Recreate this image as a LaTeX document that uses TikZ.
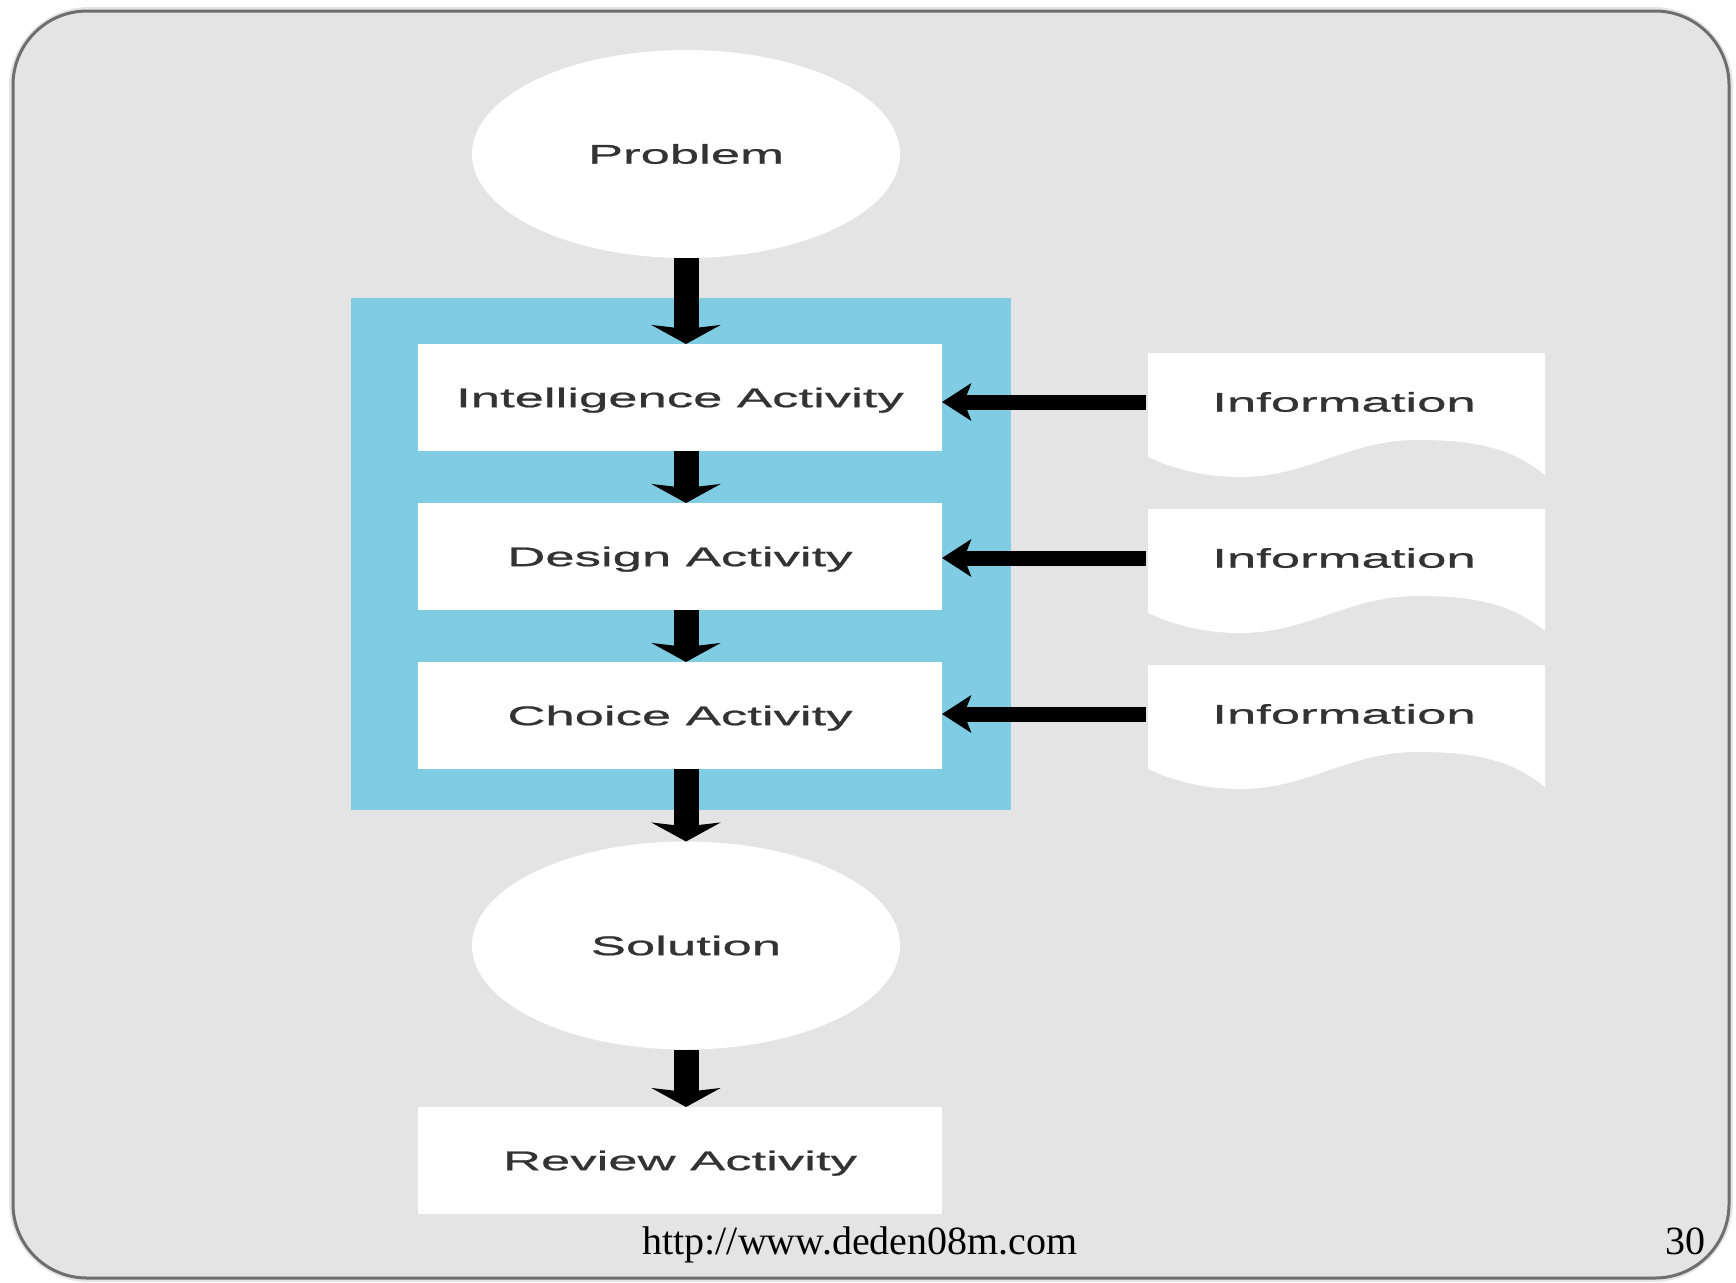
\documentclass[tikz,border=0pt]{standalone}
\usepackage{fontspec}
\setmainfont{Liberation Serif}
\newfontfamily\diagfont[FakeStretch=1.95,FakeBold=0.8]{Liberation Sans}
\usetikzlibrary{arrows.meta,shapes.geometric}

\definecolor{slidebg}{HTML}{E4E4E4}
\definecolor{frameline}{HTML}{6E6E6E}
\definecolor{phasebg}{HTML}{80CDE3}
\definecolor{labeltext}{HTML}{333333}

\begin{document}
\begin{tikzpicture}[x=1pt,y=-1pt,
  every node/.style={inner sep=0pt, outer sep=0pt},
  labelfont/.style={font=\diagfont\fontsize{27}{32}\selectfont, text=labeltext,
    text height=19.3pt, text depth=0pt},
  stepbox/.style={labelfont, fill=white, minimum width=524pt, minimum height=107pt},
  oval/.style={labelfont, ellipse, fill=white, minimum width=428pt, minimum height=208pt},
  docnode/.style={labelfont, minimum width=397pt},
  flow/.style={line width=25pt, -{Stealth[length=19pt, width=69pt, inset=4pt]}},
  feed/.style={line width=15pt, -{Stealth[length=29pt, width=37pt, inset=7pt]}},
  footer/.style={font=\fontsize{40}{48}\selectfont, anchor=base}
]
\useasboundingbox (0,0) rectangle (1736,1282);
\fill[white] (0,0) rectangle (1736,1282);

% slide frame
\draw[line width=8pt, black!10, rounded corners=76pt] (13,11) rectangle (1729,1278);
\draw[fill=slidebg, draw=frameline, line width=3pt, rounded corners=74pt] (13,11) rectangle (1729,1278);

% decision phases band
\fill[phasebg] (351,298) rectangle (1011,810);

% flow nodes
\node[oval] (problem) at (686,154) {Problem};
\node[stepbox] (intel) at (680,397.5) {Intelligence Activity};
\node[stepbox] (design) at (680,556.5) {Design Activity};
\node[stepbox] (choice) at (680,715.5) {Choice Activity};
\node[oval] (solution) at (686,945.5) {Solution};
\node[stepbox] (review) at (680,1160.5) {Review Activity};

% information documents
\foreach \t/\n in {353/1,509/2,665/3} {
  \fill[white, shift={(1148,\t)}] (0,0) -- (397,0) -- (397,122)
    .. controls (360,92) and (320,87) .. (269,87)
    .. controls (200,87) and (160,124) .. (92,124)
    .. controls (50,124) and (20,113) .. (0,104) -- cycle;
  \node[docnode] (info\n) at (1344,\t+49) {Information};
}

% vertical flow arrows
\draw[flow] (problem.south) -- (problem.south |- intel.north);
\draw[flow] (intel.south -| problem.south) -- (problem.south |- design.north);
\draw[flow] (design.south -| problem.south) -- (problem.south |- choice.north);
\draw[flow] (choice.south -| problem.south) -- (solution.north);
\draw[flow] (solution.south) -- (solution.south |- review.north);

% information feeds
\draw[feed] (info1.west) -- (intel.east |- info1.west);
\draw[feed] (info2.west) -- (design.east |- info2.west);
\draw[feed] (info3.west) -- (choice.east |- info3.west);

% footer
\node[footer] (url) at (860,1254) {http://www.deden08m.com};
\node[footer] (pagenum) at (1685,1254) {30};
\end{tikzpicture}
\end{document}
